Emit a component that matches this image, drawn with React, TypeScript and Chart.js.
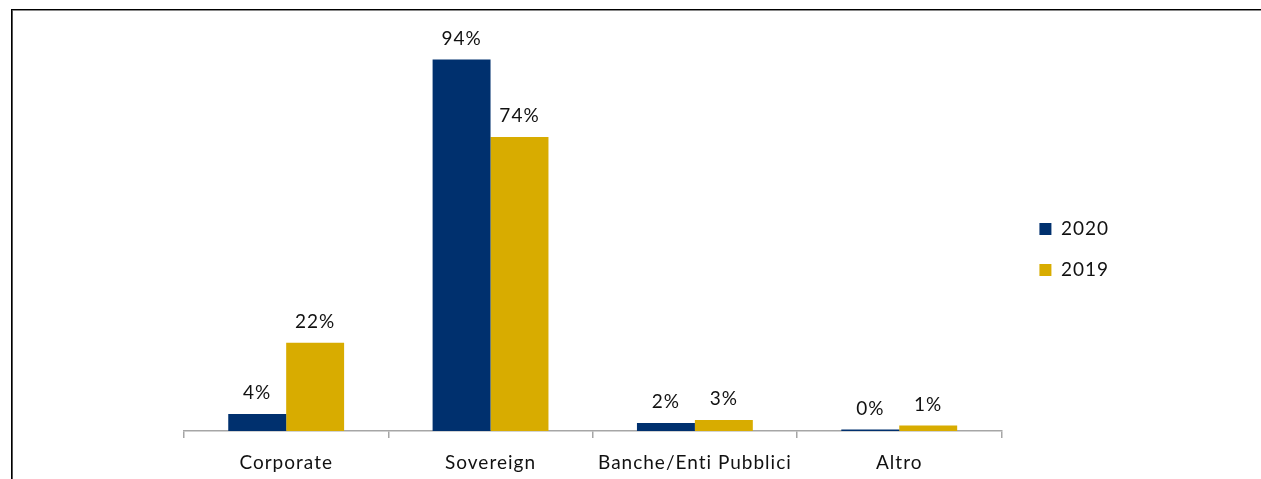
import React, { useEffect, useRef } from "react";
import { Chart, registerables } from "chart.js";

Chart.register(...registerables);

const categories = ["Corporate", "Sovereign", "Banche/Enti Pubblici", "Altro"];
const series2020 = [4.3, 94.0, 2.0, 0.4];
const series2019 = [22.3, 74.4, 2.8, 1.4];
const seriesNames = ["2020", "2019"];
const colors = ["#00306E", "#D8AC00"];

const FONT = "Lato";

const spacing = {
  id: "spacing",
  beforeInit(chart: any) {
    chart.ctx.letterSpacing = "1px";
  },
  beforeLayout(chart: any) {
    chart.ctx.letterSpacing = "1px";
  },
  beforeDraw(chart: any) {
    chart.ctx.letterSpacing = "1px";
  },
};

const valueLabels = {
  id: "valueLabels",
  afterDatasetsDraw(chart: any) {
    const ctx = chart.ctx;
    ctx.save();
    ctx.letterSpacing = "1px";
    ctx.font = `19px ${FONT}`;
    ctx.fillStyle = "#111";
    ctx.textAlign = "center";
    ctx.textBaseline = "middle";
    chart.data.datasets.forEach((ds: any, di: number) => {
      const meta = chart.getDatasetMeta(di);
      meta.data.forEach((bar: any, i: number) => {
        const v = ds.data[i];
        ctx.fillText(`${Math.round(v)}%`, bar.x, bar.y - 21);
      });
    });
    ctx.restore();
  },
};

export default function App() {
  const ref = useRef<HTMLCanvasElement>(null);
  useEffect(() => {
    if (!ref.current) return;
    const chart = new Chart(ref.current, {
      type: "bar",
      data: {
        labels: categories,
        datasets: [
          { label: seriesNames[0], data: series2020, backgroundColor: colors[0] },
          { label: seriesNames[1], data: series2019, backgroundColor: colors[1] },
        ],
      },
      options: {
        animation: false,
        responsive: false,
        devicePixelRatio: 1,
        layout: { padding: { left: 184, right: 142, top: 20, bottom: 0 } },
        datasets: {
          bar: { categoryPercentage: 0.567, barPercentage: 1 },
        } as any,
        scales: {
          x: {
            grid: {
              display: true,
              drawOnChartArea: false,
              drawTicks: true,
              tickLength: 7,
              color: "#A6A6A6",
              lineWidth: 1.5,
              offset: true,
            },
            border: { display: true, color: "#A6A6A6", width: 1.5 },
            ticks: {
              color: "#111",
              font: { family: FONT, size: 19 },
              padding: 13,
            },
            afterFit: (s: any) => {
              s.height = 48;
            },
          },
          y: {
            position: "right",
            min: 0,
            max: 104,
            display: true,
            grid: { display: false },
            border: { display: false },
            ticks: { display: false },
            afterFit: (s: any) => {
              s.width = 16;
            },
          },
        },
        plugins: {
          legend: {
            position: "right",
            align: "center",
            labels: {
              boxWidth: 12,
              boxHeight: 12,
              padding: 22,
              color: "#111",
              font: { family: FONT, size: 19 },
            },
          },
          tooltip: { enabled: false },
        },
      },
      plugins: [spacing, valueLabels],
    });
    return () => chart.destroy();
  }, []);

  return (
    <div
      style={{
        position: "absolute",
        left: 0,
        top: 0,
        width: 1261,
        height: 479,
        background: "#fff",
        overflow: "hidden",
      }}
    >
      <div style={{ position: "absolute", left: 11, top: 9, width: 1250, height: 1, background: "#000" }} />
      <div style={{ position: "absolute", left: 11, top: 10, width: 1250, height: 1, background: "#8a8a8a" }} />
      <div style={{ position: "absolute", left: 11, top: 9, width: 1, height: 470, background: "#000" }} />
      <div style={{ position: "absolute", left: 12, top: 10, width: 1, height: 469, background: "#555" }} />
      <canvas ref={ref} width={1261} height={479} style={{ position: "absolute", left: 0, top: 0 }} />
    </div>
  );
}
